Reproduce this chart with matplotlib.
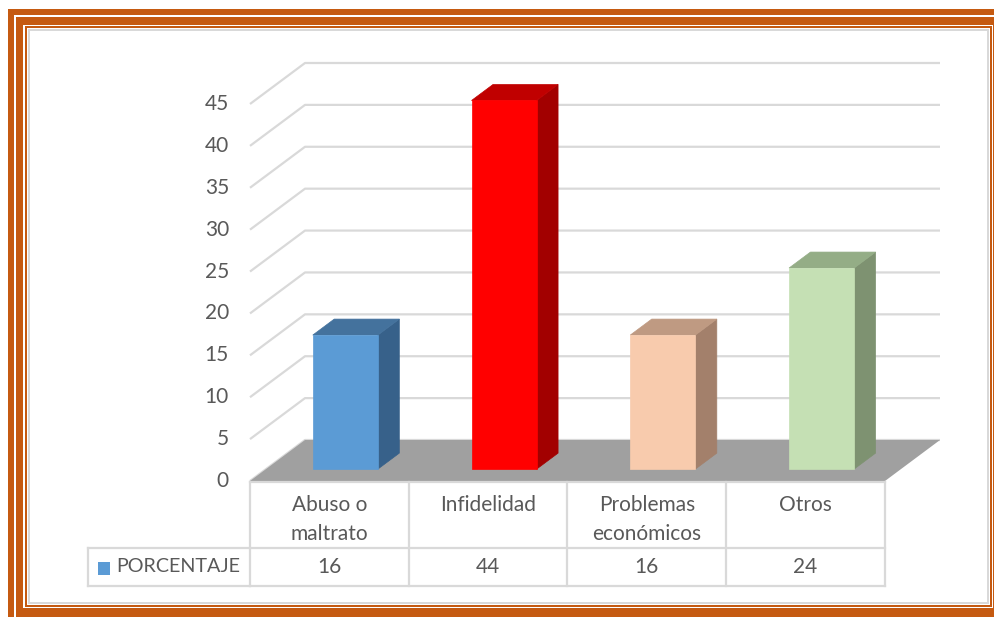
import matplotlib
matplotlib.use("Agg")
import matplotlib.pyplot as plt
from matplotlib.patches import Polygon, Rectangle
from matplotlib import transforms

plt.rcParams["font.family"] = ["Lato", "DejaVu Sans"]

# datos del gráfico
categorias = ["Abuso o\nmaltrato", "Infidelidad", "Problemas\neconómicos", "Otros"]
porcentaje = [16, 44, 16, 24]
serie = "PORCENTAJE"
ticks_y = [0, 5, 10, 15, 20, 25, 30, 35, 40, 45]

# colores: frente, tapa, lateral
col_frente = ["#5b9bd5", "#ff0000", "#f8cbad", "#c5e0b4"]
col_tapa = ["#44729d", "#c00000", "#bf9a82", "#94ad86"]
col_lado = ["#37618a", "#a20000", "#a3806b", "#7e9271"]

GRIS_TXT = "#595959"
GRIS_LIN = "#d9d9d9"
NARANJA = "#c55a11"
FS = 15

W, H = 995, 617
fig = plt.figure(figsize=(W / 100, H / 100), dpi=100)

# lienzo en pixeles para el marco y la leyenda
lienzo = fig.add_axes([0, 0, 1, 1])
lienzo.set_xlim(0, W)
lienzo.set_ylim(H, 0)
lienzo.axis("off")

def rect(x0, y0, x1, y1, color, z=0):
    lienzo.add_patch(Rectangle((x0, y0), x1 - x0, y1 - y0, facecolor=color,
                               edgecolor="none", zorder=z))

# marco naranja con filetes blancos
rect(8, 9, 1100, 1100, NARANJA, 0)
rect(14, 15, 1100, 1100, "white", 1)
rect(16, 16.5, 1100, 1100, NARANJA, 2)
rect(23, 24.5, 993, 608, "white", 3)
rect(25, 26, 992, 607, NARANJA, 4)
rect(27, 27.5, 990, 605, "white", 5)
rect(28, 28.5, 989, 604, GRIS_LIN, 6)
rect(30, 30.5, 987, 602, "white", 7)

# ejes del gráfico 3D (proyección oblicua)
DX, DY = 0.3465, 4.893          # desplazamiento de profundidad en unidades de datos
x_izq, x_der = 250, 940
y_base, y_sup = 481, 63
ax = fig.add_axes([x_izq / W, (H - y_base) / H, (x_der - x_izq) / W, (y_base - y_sup) / H])
ax.set_xlim(-0.5, len(categorias) - 0.5 + DX)
ax.set_ylim(0, max(ticks_y) + DY)
ax.axis("off")
ax.patch.set_alpha(0)

n = len(categorias)

# líneas de cuadrícula: pared lateral y pared del fondo
for v in ticks_y:
    ax.plot([-0.5, -0.5 + DX, n - 0.5 + DX], [v, v + DY, v + DY],
            color=GRIS_LIN, lw=1.6, solid_capstyle="butt", zorder=1, clip_on=False)
    ax.text(-0.5, v, str(v), transform=transforms.offset_copy(ax.transData, fig=fig, x=-21, y=0, units="dots"),
            ha="right", va="center", fontsize=FS, color=GRIS_TXT)

# suelo gris
ax.add_patch(Polygon([(-0.5, 0), (n - 0.5, 0), (n - 0.5 + DX, DY), (-0.5 + DX, DY)],
                     closed=True, facecolor="#a0a0a0", edgecolor="none", zorder=2, clip_on=False))

# barras 3D
w = 0.205
d0, d1 = 0.29, 0.68
for i, v in enumerate(porcentaje):
    ox, oy = d0 * DX, d0 * DY
    px, py = (d1 - d0) * DX, (d1 - d0) * DY
    xl, xr = i - w + ox, i + w + ox
    frente = [(xl, oy), (xr, oy), (xr, oy + v), (xl, oy + v)]
    lado = [(xr, oy), (xr + px, oy + py), (xr + px, oy + v + py), (xr, oy + v)]
    tapa = [(xl, oy + v), (xr, oy + v), (xr + px, oy + v + py), (xl + px, oy + v + py)]
    for pts, c in ((lado, col_lado[i]), (tapa, col_tapa[i]), (frente, col_frente[i])):
        ax.add_patch(Polygon(pts, closed=True, facecolor=c, edgecolor=c, lw=0.5,
                             zorder=3, clip_on=False))

# tabla de datos bajo el gráfico
tr = transforms.blended_transform_factory(ax.transData, lienzo.transData)
y_t0, y_t1, y_t2 = 482, 548, 586
x_leg = 88
kw = dict(color=GRIS_LIN, lw=1.6, transform=tr, clip_on=False, zorder=4)
ax.plot([-0.5, n - 0.5], [y_t0, y_t0], **kw)
for i in range(n + 1):
    ax.plot([i - 0.5, i - 0.5], [y_t0, y_t2], **kw)
ax.plot([-0.5, n - 0.5], [y_t1, y_t1], **kw)
ax.plot([-0.5, n - 0.5], [y_t2, y_t2], **kw)
lienzo.plot([x_leg, x_leg], [y_t1, y_t2], color=GRIS_LIN, lw=1.6, zorder=8)
lienzo.plot([x_leg, x_izq], [y_t1, y_t1], color=GRIS_LIN, lw=1.6, zorder=8)
lienzo.plot([x_leg, x_izq], [y_t2, y_t2], color=GRIS_LIN, lw=1.6, zorder=8)

for i, (cat, v) in enumerate(zip(categorias, porcentaje)):
    for k, linea in enumerate(cat.split("\n")):
        ax.text(i, 505 + 29 * k, linea, transform=tr, ha="center", va="center",
                fontsize=FS, color=GRIS_TXT)
    ax.text(i, 567, str(v), transform=tr, ha="center", va="center",
            fontsize=FS, color=GRIS_TXT)

# clave de leyenda
rect(98, 562, 110, 575, col_frente[0], 9)
lienzo.text(116, 567, serie, ha="left", va="center", fontsize=14.2, color=GRIS_TXT, zorder=9)

fig.savefig("out.png", dpi=100)
